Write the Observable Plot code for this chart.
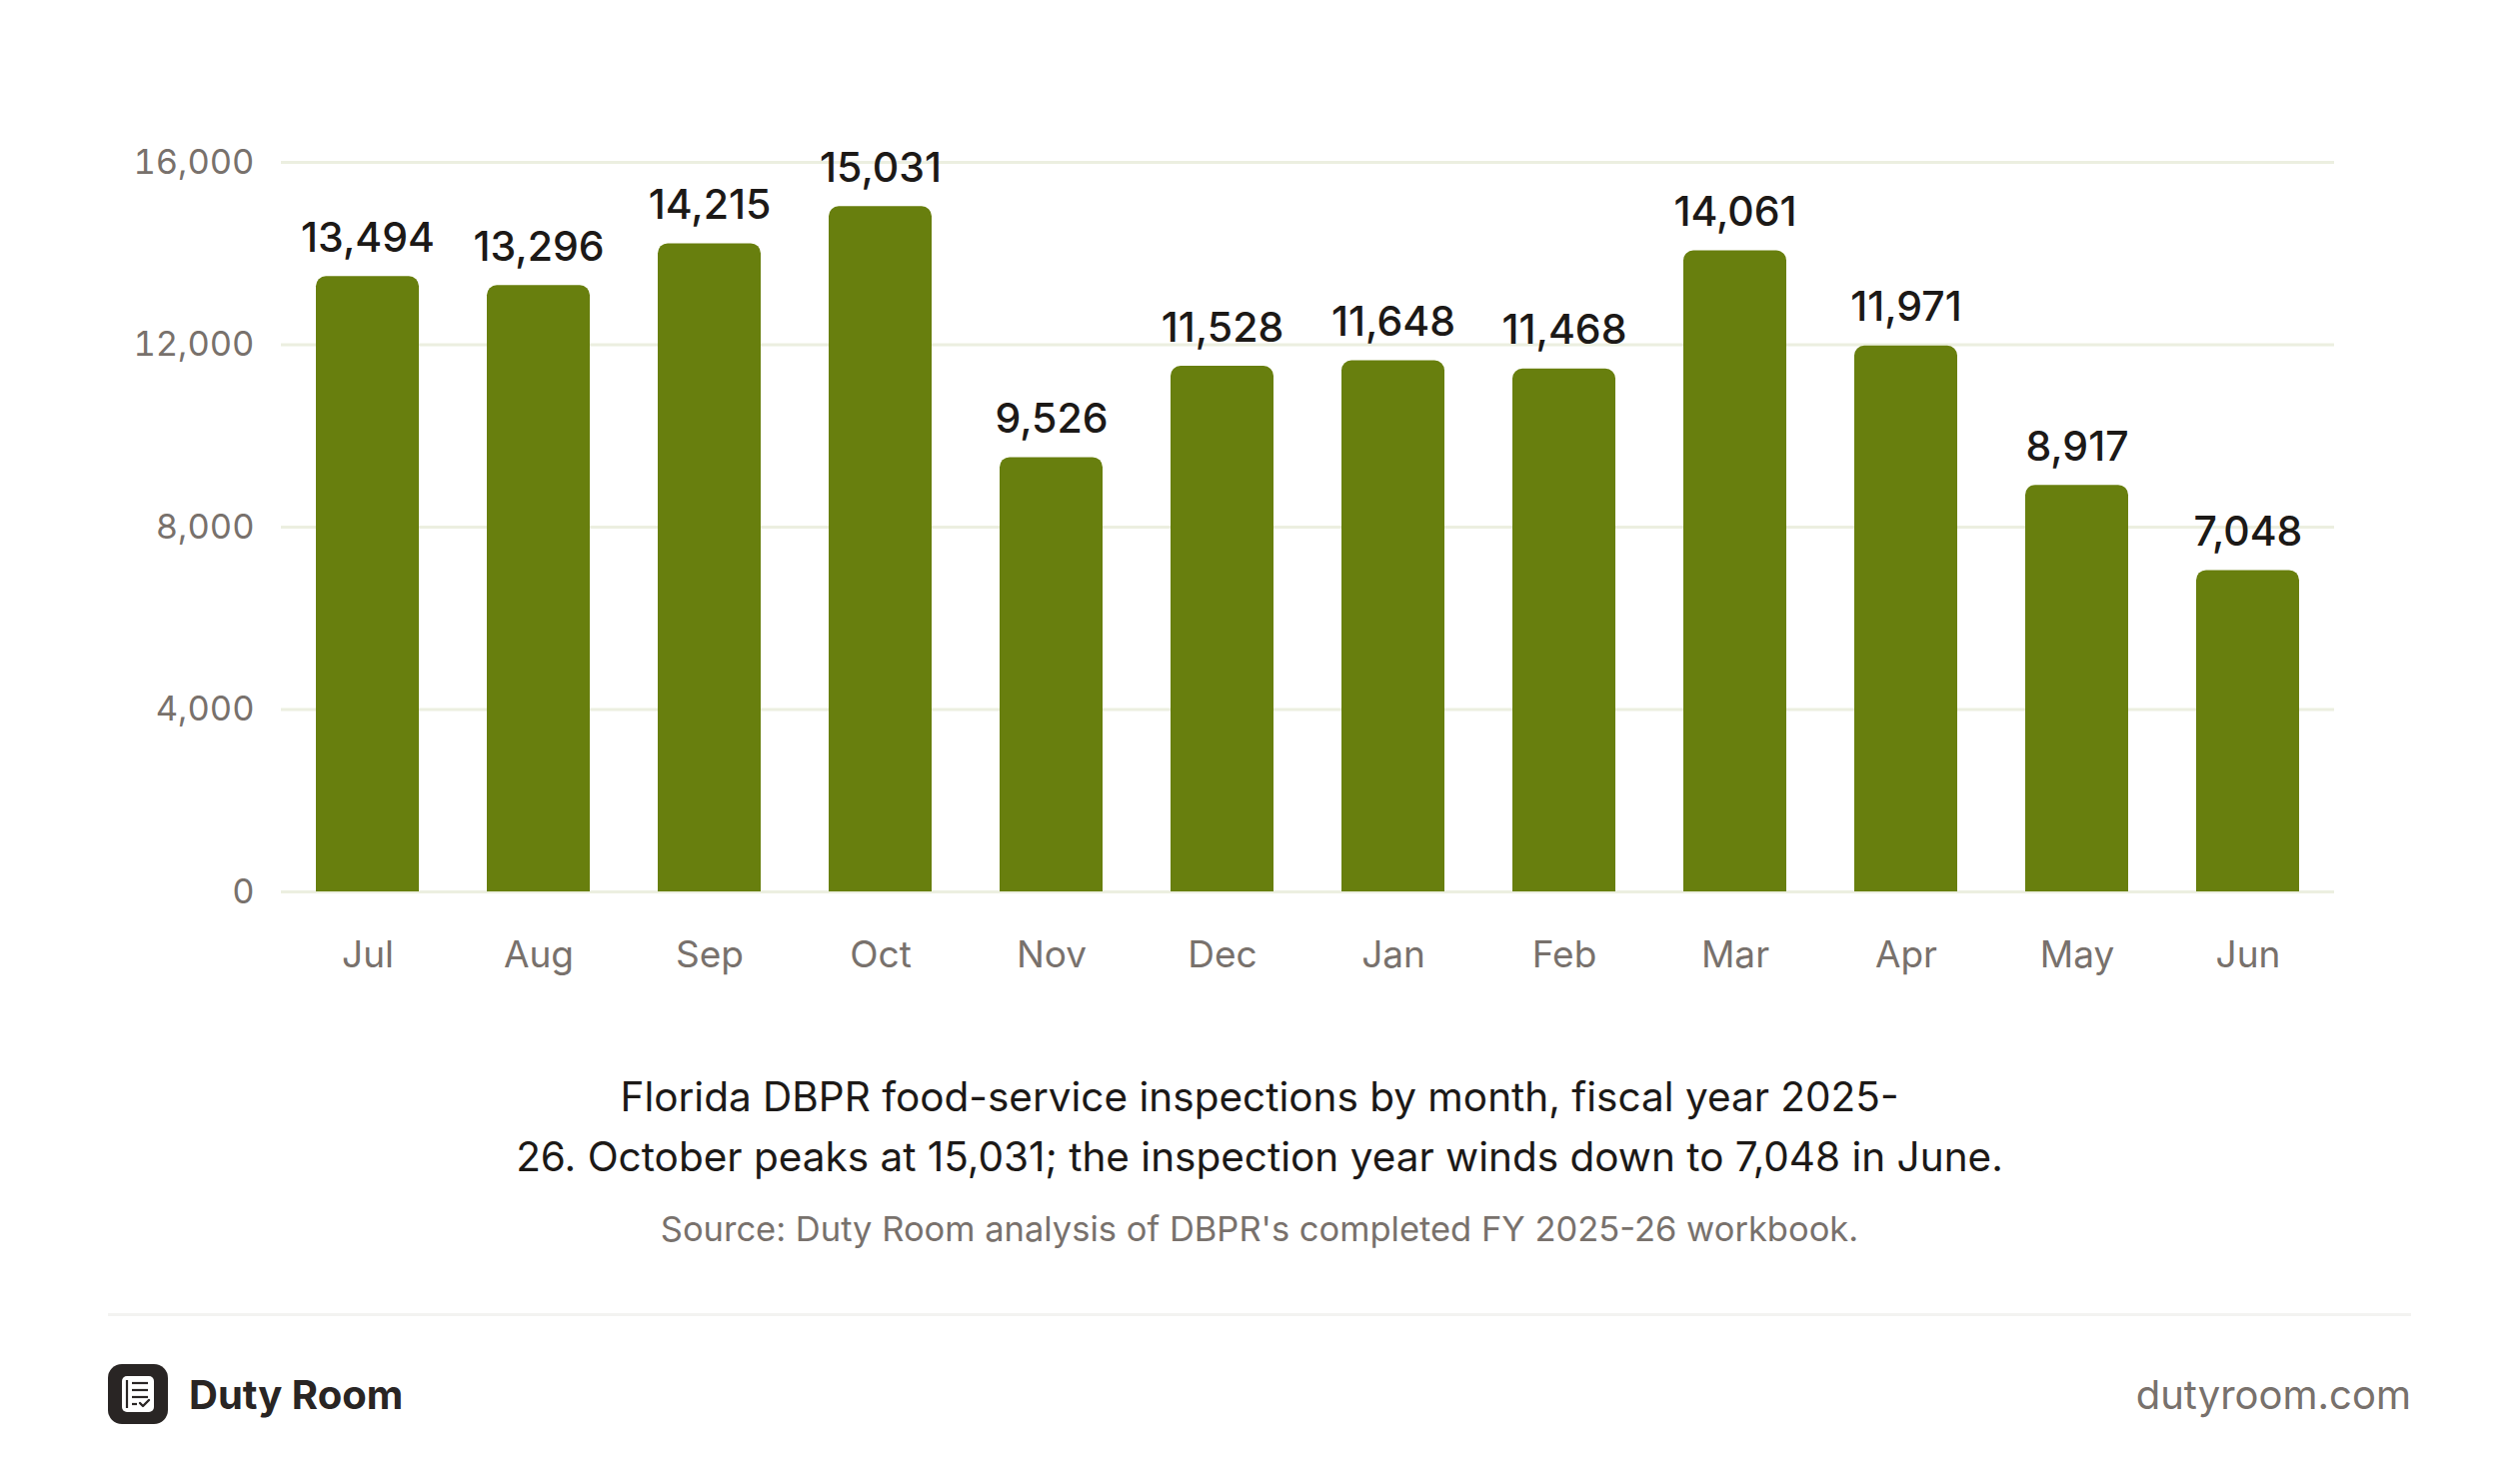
<!DOCTYPE html>
<html>
<head>
<meta charset="utf-8">
<script src="https://cdn.jsdelivr.net/npm/d3@7"></script>
<script src="https://cdn.jsdelivr.net/npm/@observablehq/plot@0.6"></script>
<style>
  html, body { margin: 0; padding: 0; background: #ffffff; }
  body { width: 2520px; font-family: Inter, "Noto Sans", sans-serif; }
  #chart svg { display: block; }
  .caption { margin-top: 58px; text-align: center; font-size: 40.5px; line-height: 60px; color: #1c1917; }
  .source { margin-top: 20px; text-align: center; font-size: 34.5px; line-height: 44px; color: #78716c; }
  .sep { margin: 62px 108px 0 108px; height: 3px; background: #f3f3f1; }
  .footer { margin: 48px 108px 0 108px; display: flex; align-items: center; justify-content: space-between; height: 60px; }
  .brand { display: flex; align-items: center; font-size: 40px; font-weight: 700; color: #292524; }
  .brand svg { margin-right: 21px; display: block; }
  .site { font-size: 40px; color: #78716c; margin-right: 0px; }
</style>
</head>
<body>
<div id="chart"></div>
<div class="caption">Florida DBPR food-service inspections by month, fiscal year 2025-<br>26. October peaks at 15,031; the inspection year winds down to 7,048 in June.</div>
<div class="source">Source: Duty Room analysis of DBPR's completed FY 2025-26 workbook.</div>
<div class="sep"></div>
<div class="footer">
  <div class="brand">
    <svg width="60" height="60" viewBox="0 0 60 60">
      <rect x="0" y="0" width="60" height="60" rx="14" fill="#292524"/>
      <rect x="14" y="12" width="32" height="36" rx="5" fill="#ffffff"/>
      <line x1="19" y1="16" x2="19" y2="44" stroke="#292524" stroke-width="2.2"/>
      <line x1="24" y1="19" x2="40" y2="19" stroke="#292524" stroke-width="2.2"/>
      <line x1="24" y1="26" x2="40" y2="26" stroke="#292524" stroke-width="2.2"/>
      <line x1="24" y1="33" x2="40" y2="33" stroke="#292524" stroke-width="2.2"/>
      <line x1="24" y1="40" x2="29" y2="40" stroke="#292524" stroke-width="2.2"/>
      <polyline points="32,39 35,42 41,36" fill="none" stroke="#292524" stroke-width="2.4" stroke-linecap="round" stroke-linejoin="round"/>
    </svg>
    <span>Duty Room</span>
  </div>
  <div class="site">dutyroom.com</div>
</div>
<script>
const months = ["Jul", "Aug", "Sep", "Oct", "Nov", "Dec", "Jan", "Feb", "Mar", "Apr", "May", "Jun"];
const inspections = [13494, 13296, 14215, 15031, 9526, 11528, 11648, 11468, 14061, 11971, 8917, 7048];
const yTicks = [0, 4000, 8000, 12000, 16000];

const data = months.map((m, i) => ({month: m, value: inspections[i]}));
const fmt = d3.format(",");

const chart = Plot.plot({
  width: 2520,
  height: 1010,
  marginTop: 162,
  marginBottom: 118,
  marginLeft: 281,
  marginRight: 185,
  style: {fontFamily: "Inter, sans-serif", background: "transparent", overflow: "visible"},
  x: {domain: months, paddingInner: 0.4, paddingOuter: 0.2, label: null},
  y: {domain: [0, 16000], label: null},
  marks: [
    Plot.ruleY(yTicks, {stroke: "#ecefe0", strokeWidth: 3}),
    Plot.barY(data, {x: "month", y: "value", fill: "#687f0e", ry1: 10}),
    Plot.text(data, {x: "month", y: "value", text: d => fmt(d.value), lineAnchor: "bottom", dy: -25,
      fontSize: 41, fontWeight: 500, fill: "#1c1917"}),
    Plot.axisY(yTicks, {tickSize: 0, tickPadding: 27, tickFormat: fmt, fontSize: 34.5, fill: "#78716c", label: null}),
    Plot.axisX({tickSize: 0, tickPadding: 49, fontSize: 37, fill: "#78716c", label: null})
  ]
});
document.getElementById("chart").appendChild(chart);
</script>
</body>
</html>
